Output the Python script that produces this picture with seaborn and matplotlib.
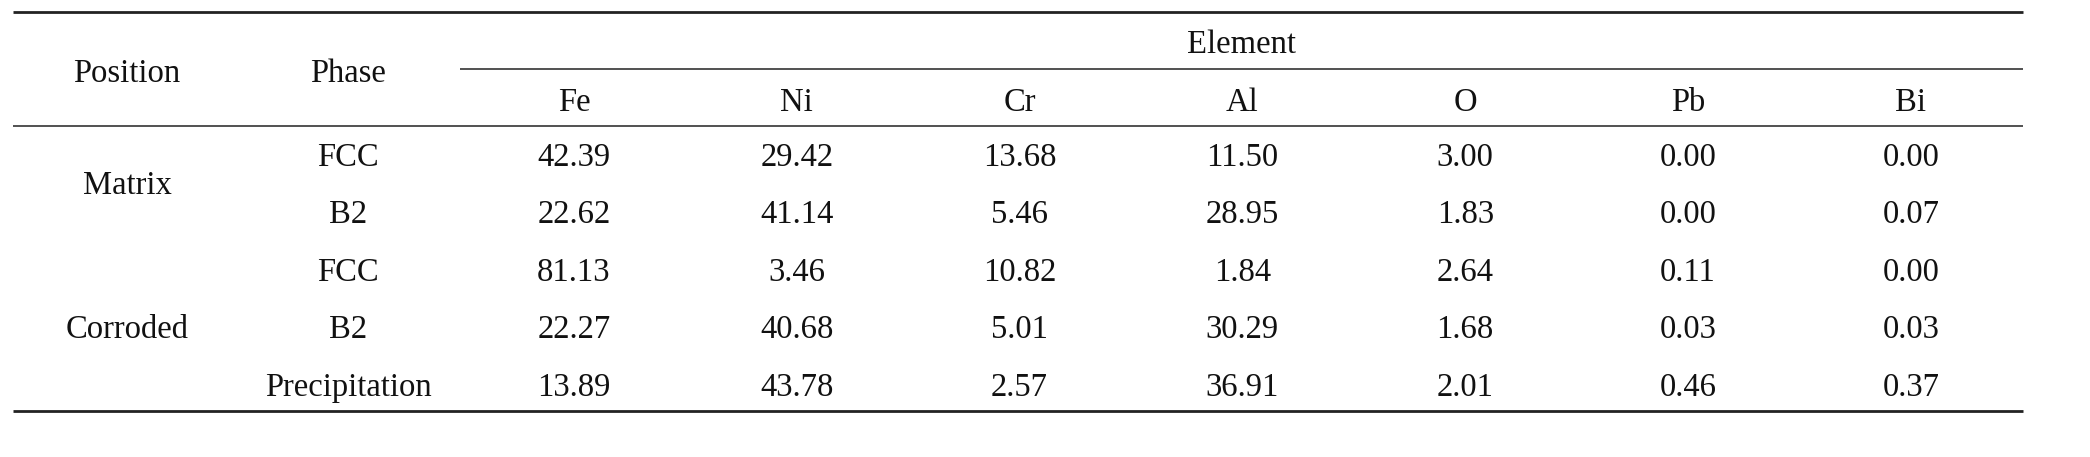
import matplotlib
matplotlib.use("Agg")
import matplotlib.pyplot as plt
import seaborn as sns

# Table data
elements = ["Fe", "Ni", "Cr", "Al", "O", "Pb", "Bi"]
positions = ["Matrix", "Corroded"]
position_rows = [[0, 1], [2, 3, 4]]
phases = ["FCC", "B2", "FCC", "B2", "Precipitation"]
fe = [42.39, 22.62, 81.13, 22.27, 13.89]
ni = [29.42, 41.14, 3.46, 40.68, 43.78]
cr = [13.68, 5.46, 10.82, 5.01, 2.57]
al = [11.50, 28.95, 1.84, 30.29, 36.91]
o = [3.00, 1.83, 2.64, 1.68, 2.01]
pb = [0.00, 0.00, 0.11, 0.03, 0.46]
bi = [0.00, 0.07, 0.00, 0.03, 0.37]
values = [fe, ni, cr, al, o, pb, bi]

sns.set_theme(style="white")
plt.rcParams['font.family'] = ['Liberation Serif', 'DejaVu Serif']

W, H = 2090, 457
fig = plt.figure(figsize=(W / 100, H / 100), dpi=100)
ax = fig.add_axes([0, 0, 1, 1])
ax.set_xlim(0, W)
ax.set_ylim(H, 0)
ax.axis("off")

# layout (pixels)
left, right = 13, 2023
top_y, elem_line_y, head_bot_y, bottom_y = 12, 69, 126, 411
pos_x, phase_x = 127, 348
elem_x0, elem_dx = 574, 222.8
elem_left = 460
row_y0, row_dy = 157.3, 57.5
fs = 23.5
col = "#111111"
line_col = "#222222"

ax.hlines([top_y, bottom_y], left, right, color=line_col, lw=2.0)
ax.hlines(head_bot_y, left, right, color=line_col, lw=1.1)
ax.hlines(elem_line_y, elem_left, right, color=line_col, lw=1.1)

ax.text(pos_x, 74, "Position", ha="center", va="center", fontsize=fs, color=col)
ax.text(phase_x, 74, "Phase", ha="center", va="center", fontsize=fs, color=col)
ax.text((elem_left + right) / 2, 45, "Element", ha="center", va="center", fontsize=fs, color=col)

for j, el in enumerate(elements):
    ax.text(elem_x0 + j * elem_dx, 102.5, el, ha="center", va="center", fontsize=fs, color=col)

for name, rows in zip(positions, position_rows):
    yc = row_y0 + row_dy * (rows[0] + rows[-1]) / 2
    ax.text(pos_x, yc, name, ha="center", va="center", fontsize=fs, color=col)

for i, ph in enumerate(phases):
    y = row_y0 + i * row_dy
    ax.text(phase_x, y, ph, ha="center", va="center", fontsize=fs, color=col)
    for j, series in enumerate(values):
        ax.text(elem_x0 + j * elem_dx, y, f"{series[i]:.2f}", ha="center", va="center",
                fontsize=fs, color=col)

fig.savefig("out.png", dpi=100, facecolor="white")
